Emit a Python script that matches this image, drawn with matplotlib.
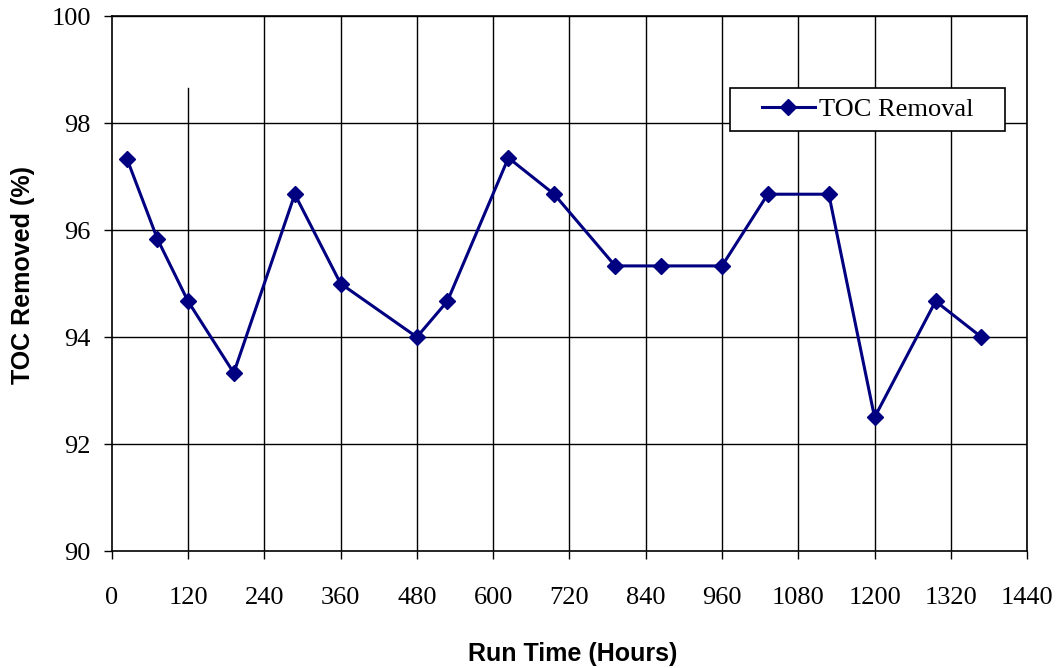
import matplotlib.pyplot as plt
from matplotlib.patches import Rectangle

run_hours = [24, 72, 120, 192, 288, 360, 480, 528, 624, 696, 792, 864, 960, 1032, 1128, 1200, 1296, 1368]
toc_removed = [97.33, 95.83, 94.67, 93.33, 96.67, 95.0, 94.0, 94.67, 97.35, 96.67,
               95.33, 95.33, 95.33, 96.67, 96.67, 92.5, 94.67, 94.0]
x_ticks = list(range(0, 1441, 120))
y_ticks = list(range(90, 101, 2))

serif = "Liberation Serif"
sans = "Liberation Sans"

fig = plt.figure(figsize=(10.6, 6.68), dpi=100)
ax = fig.add_axes([0.1054, 0.175, 0.8636, 0.801])

ax.plot(run_hours, toc_removed, color="#000080", lw=2.2, marker="D", ms=8,
        label="TOC Removal", zorder=3)

ax.set_xlim(0, 1440)
ax.set_ylim(90, 100)
ax.set_xticks(x_ticks)
ax.set_yticks(y_ticks)
ax.tick_params(direction="out", length=6, width=1, color="black")
ax.tick_params(axis="x", pad=20)
ax.tick_params(axis="y", pad=9)
for lab in ax.get_xticklabels() + ax.get_yticklabels():
    lab.set_fontfamily(serif)
    lab.set_fontsize(19)

# grid: vertical line at 120 stops short of the top, as in the original
for x in x_ticks[2:]:
    ax.axvline(x, color="black", lw=1, zorder=1)
ax.axvline(120, ymax=0.865, color="black", lw=1, zorder=1)
for y in y_ticks[1:]:
    ax.axhline(y, color="black", lw=1, zorder=1)

for sp in ax.spines.values():
    sp.set_linewidth(1.2)

fig.text(0.54, 0.021, "Run Time (Hours)", fontfamily=sans, fontweight="bold",
         fontsize=18, ha="center", va="center")
fig.text(0.022, 0.588, "TOC Removed (%)", fontfamily=sans, fontweight="bold",
         fontsize=18, ha="center", va="center", rotation=90)

# legend box
box = (0.6755, 0.785, 0.3005, 0.0804)
ax.add_patch(Rectangle(box[:2], box[2], box[3], transform=ax.transAxes,
                       facecolor="white", edgecolor="black", lw=1.2, zorder=4))
leg = ax.legend(loc="center", bbox_to_anchor=box, prop={"family": serif, "size": 19},
                frameon=False, handlelength=2.0, borderpad=0.2, handletextpad=0.15)
leg.set_zorder(5)

fig.savefig("out.png", dpi=100)
